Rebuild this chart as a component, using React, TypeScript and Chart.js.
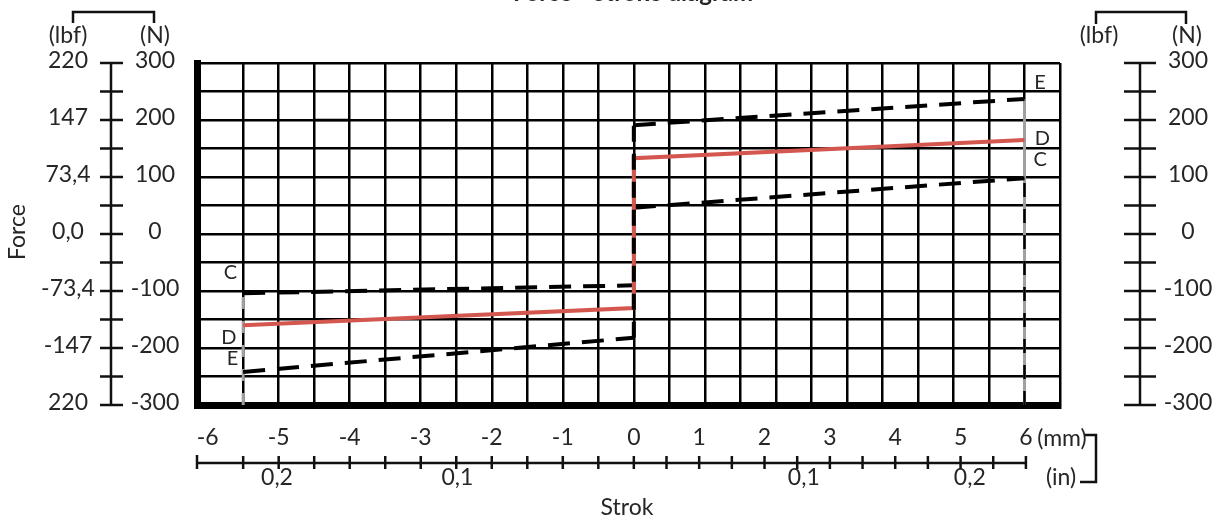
import React, { useEffect, useRef } from 'react';
import { Chart, registerables } from 'chart.js';

Chart.register(...registerables);

// ---------- data ----------
const TITLE = 'Force - Stroke diagram';
const X_TITLE = 'Strok';
const Y_TITLE = 'Force';

const X_MIN = -6.15;
const X_MAX = 6;
const Y_MIN = -300;
const Y_MAX = 300;

const N_TICKS = [300, 200, 100, 0, -100, -200, -300];
const LBF_TICKS = ['220', '147', '73,4', '0,0', '-73,4', '-147', '220'];
const MM_TICKS = [-6, -5, -4, -3, -2, -1, 0, 1, 2, 3, 4, 5, 6];
const IN_TICKS = [-0.2, -0.1, 0.1, 0.2];

const D_STROKE = [-5.5, 0, 0, 5.5];
const D_FORCE = [-160, -130, 133, 165];

const E_UPPER_STROKE = [0, 5.5];
const E_UPPER_FORCE = [191, 237];
const C_UPPER_STROKE = [0, 5.5];
const C_UPPER_FORCE = [46, 98];

const C_LOWER_STROKE = [-5.5, 0];
const C_LOWER_FORCE = [-104, -90];
const E_LOWER_STROKE = [-5.5, 0];
const E_LOWER_FORCE = [-242, -182];

const STEP_STROKE = [0, 0];
const STEP_FORCE = [-182, 191];

const LIMIT_R_STROKE = [5.5, 5.5];
const LIMIT_R_FORCE = [-300, 237];
const LIMIT_R_DASH_FORCE = [-300, 98];
const LIMIT_L_STROKE = [-5.5, -5.5];
const LIMIT_L_FORCE = [-300, -104];

const MARK_STROKE = [-4.5, -4.0];
const MARK_FORCE = [200, 200];

const CURVE_LABELS = ['E', 'D', 'C', 'C', 'D', 'E'];
const CURVE_LABEL_STROKE = [5.72, 5.75, 5.72, -5.68, -5.7, -5.65];
const CURVE_LABEL_FORCE = [265, 168, 130, -68, -182, -218];

// ---------- helpers ----------
const pts = (xs: number[], ys: number[]) => xs.map((x, i) => ({ x, y: ys[i] }));

const FONT = 'Lato, "Open Sans", sans-serif';
const TEXT = '#262626';
const RED = '#d4574f';
const GRAY = '#a0a0a0';
const RULER_RIGHT_SCALE = 0.92;

const line = (ctx: CanvasRenderingContext2D, x1: number, y1: number, x2: number, y2: number) => {
  ctx.beginPath();
  ctx.moveTo(x1, y1);
  ctx.lineTo(x2, y2);
  ctx.stroke();
};

const decor = {
  id: 'decor',
  afterDraw(chart: any) {
    const { ctx, chartArea: a } = chart;
    const x = chart.scales.x;
    const y = chart.scales.y;
    ctx.save();
    ctx.fillStyle = TEXT;
    ctx.strokeStyle = '#111';
    ctx.lineCap = 'butt';

    // title (cut off at the top)
    ctx.font = `bold 24px ${FONT}`;
    ctx.textAlign = 'center';
    ctx.textBaseline = 'alphabetic';
    ctx.fillText(TITLE, 633, 1);

    // curve labels C / D / E
    ctx.font = `20px ${FONT}`;
    ctx.textBaseline = 'middle';
    CURVE_LABELS.forEach((t, i) => {
      ctx.fillText(t, x.getPixelForValue(CURVE_LABEL_STROKE[i]), y.getPixelForValue(CURVE_LABEL_FORCE[i]));
    });

    // ---- left double axis ----
    ctx.lineWidth = 2.5;
    ctx.font = `23px ${FONT}`;
    ctx.fillText('(lbf)', 68, 36);
    ctx.fillText('(N)', 155, 36);
    ctx.beginPath();
    ctx.moveTo(73, 23);
    ctx.lineTo(73, 12);
    ctx.lineTo(154, 12);
    ctx.lineTo(154, 23);
    ctx.stroke();

    const axL = 111;
    line(ctx, axL, y.getPixelForValue(Y_MAX), axL, y.getPixelForValue(Y_MIN));
    for (let v = Y_MIN; v <= Y_MAX; v += 50) {
      const py = y.getPixelForValue(v);
      line(ctx, axL - 11, py, axL + 12, py);
    }
    N_TICKS.forEach((v, i) => {
      const py = y.getPixelForValue(v) - 2;
      ctx.fillText(String(v), 155, py);
      ctx.fillText(LBF_TICKS[i], 68, py);
    });

    // ---- right axis ----
    ctx.fillText('(lbf)', 1099, 36);
    ctx.fillText('(N)', 1187, 36);
    ctx.beginPath();
    ctx.moveTo(1096, 24);
    ctx.lineTo(1096, 12);
    ctx.lineTo(1186, 12);
    ctx.lineTo(1186, 24);
    ctx.stroke();

    const axR = 1140;
    line(ctx, axR, y.getPixelForValue(Y_MAX), axR, y.getPixelForValue(Y_MIN));
    for (let v = Y_MIN; v <= Y_MAX; v += 50) {
      const py = y.getPixelForValue(v);
      line(ctx, axR - 16, py, axR + 16, py);
    }
    N_TICKS.forEach((v) => {
      ctx.fillText(String(v), 1188, y.getPixelForValue(v) - 2);
    });

    // ---- bottom ruler ----
    const p0 = x.getPixelForValue(0);
    const rx = (v: number) => {
      const p = x.getPixelForValue(v);
      return v <= 0 ? p : p0 + (p - p0) * RULER_RIGHT_SCALE;
    };
    const ry = 463;
    line(ctx, a.left, ry, rx(6), ry);
    line(ctx, a.left, ry - 8, a.left, ry + 6);
    for (let k = -11; k <= 12; k++) {
      const px = rx(k / 2);
      line(ctx, px, ry - 7, px, ry + 6);
    }
    MM_TICKS.forEach((v) => {
      ctx.fillText(String(v), rx(v), 438);
    });
    IN_TICKS.forEach((v) => {
      ctx.fillText(Math.abs(v).toFixed(1).replace('.', ','), rx(v * 25.4) + 4, 478);
    });
    ctx.fillText('(mm)', 1062, 439);
    ctx.fillText('(in)', 1061, 478);
    ctx.beginPath();
    ctx.moveTo(1085, 435);
    ctx.lineTo(1096, 435);
    ctx.lineTo(1096, 482);
    ctx.lineTo(1080, 482);
    ctx.stroke();

    // axis titles
    ctx.fillText(X_TITLE, 627, 508);
    ctx.save();
    ctx.translate(18, 232);
    ctx.rotate(-Math.PI / 2);
    ctx.fillText(Y_TITLE, 0, 0);
    ctx.restore();

    ctx.restore();
  },
};

export default function App() {
  const ref = useRef<HTMLCanvasElement | null>(null);

  useEffect(() => {
    if (!ref.current) return;
    const base = { pointRadius: 0, fill: false, showLine: true, tension: 0 };
    const chart = new Chart(ref.current, {
      type: 'scatter',
      data: {
        datasets: [
          { ...base, label: 'step', data: pts(STEP_STROKE, STEP_FORCE), borderColor: '#000', borderWidth: 4, borderDash: [16, 12] },
          { ...base, label: 'D', data: pts(D_STROKE, D_FORCE), borderColor: RED, borderWidth: 4 },
          { ...base, label: 'E upper', data: pts(E_UPPER_STROKE, E_UPPER_FORCE), borderColor: '#000', borderWidth: 4, borderDash: [22, 12] },
          { ...base, label: 'C upper', data: pts(C_UPPER_STROKE, C_UPPER_FORCE), borderColor: '#000', borderWidth: 4, borderDash: [22, 12] },
          { ...base, label: 'C lower', data: pts(C_LOWER_STROKE, C_LOWER_FORCE), borderColor: '#000', borderWidth: 4, borderDash: [22, 12] },
          { ...base, label: 'E lower', data: pts(E_LOWER_STROKE, E_LOWER_FORCE), borderColor: '#000', borderWidth: 4, borderDash: [22, 12] },
          { ...base, label: 'limit R dash', data: pts(LIMIT_R_STROKE, LIMIT_R_DASH_FORCE), borderColor: '#000', borderWidth: 2.5, borderDash: [14, 12] },
          { ...base, label: 'limit R', data: pts(LIMIT_R_STROKE, LIMIT_R_FORCE), borderColor: GRAY, borderWidth: 3 },
          { ...base, label: 'limit L', data: pts(LIMIT_L_STROKE, LIMIT_L_FORCE), borderColor: GRAY, borderWidth: 3, borderDash: [12, 12] },
          { ...base, label: 'mark', data: pts(MARK_STROKE, MARK_FORCE), borderColor: '#000', borderWidth: 2.5 },
        ],
      },
      options: {
        responsive: false,
        animation: false,
        devicePixelRatio: 1,
        layout: { padding: { left: 197, right: 161, top: 63, bottom: 117 } },
        plugins: { legend: { display: false }, tooltip: { enabled: false }, title: { display: false } },
        scales: {
          x: {
            type: 'linear',
            min: X_MIN,
            max: X_MAX,
            ticks: { display: false, stepSize: 0.5 },
            grid: {
              drawTicks: false,
              lineWidth: 2.5,
              color: (c: any) => (c.tick && Math.abs(c.tick.value + 6) < 1e-6 ? 'rgba(0,0,0,0)' : '#000'),
            },
            border: { display: true, color: '#000', width: 7 },
          },
          y: {
            type: 'linear',
            min: Y_MIN,
            max: Y_MAX,
            ticks: { display: false, stepSize: 50 },
            grid: { drawTicks: false, lineWidth: 2.5, color: '#000' },
            border: { display: true, color: '#000', width: 7 },
          },
        },
      },
      plugins: [decor],
    } as any);
    return () => chart.destroy();
  }, []);

  return (
    <div style={{ position: 'fixed', left: 0, top: 0, width: 1221, height: 522, background: '#fff' }}>
      <canvas ref={ref} width={1221} height={522} style={{ display: 'block' }} />
    </div>
  );
}
